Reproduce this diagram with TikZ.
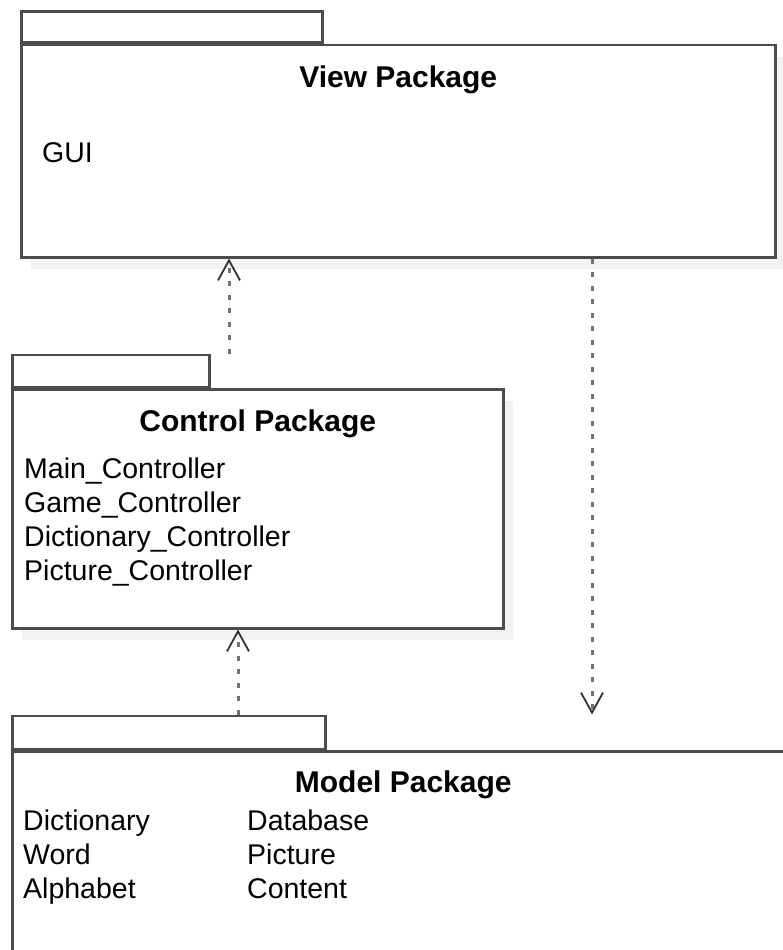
\documentclass[tikz,border=0pt]{standalone}
\usepackage{fontspec}
\setmainfont{Liberation Sans}
\usetikzlibrary{arrows.meta,shadows}

\begin{document}
\begin{tikzpicture}[x=1pt,y=-1pt,
    pkg/.style={draw=black!70, line width=2.5pt, fill=white, inner sep=0pt, anchor=north west},
    pkgbody/.style={pkg, drop shadow={shadow xshift=10pt, shadow yshift=-12pt, fill=black!5, opacity=1}},
    pkgname/.style={font=\fontsize{30}{34}\selectfont\bfseries, anchor=base, inner sep=0pt},
    pkglist/.style={font=\fontsize{28.5}{33.8}\selectfont, align=left, anchor=base west, inner sep=0pt},
    dep/.style={draw=black!55, line width=3pt, dash pattern=on 5pt off 8.5pt,
      -{Straight Barb[length=20pt, width=22pt, line width=1.8pt, color=black!80]}}]
      \useasboundingbox (0,0) rectangle (783,950);
      \clip (0,0) rectangle (783,950);

      \node[pkgbody, minimum width=754pt, minimum height=212pt] (view) at (20,44) {};
      \node[pkg, minimum width=301pt, minimum height=31pt, anchor=south west] (viewtab) at (view.north west) {};
      \node[pkgname] (viewname) at ([yshift=-43pt]view.north) {View Package};
      \node[pkglist] (gui) at ([xshift=22pt, yshift=-118pt]view.north west) {GUI};

      \node[pkgbody, minimum width=491pt, minimum height=239pt] (control) at (11,388) {};
      \node[pkg, minimum width=197pt, minimum height=32pt, anchor=south west] (controltab) at (control.north west) {};
      \node[pkgname] (controlname) at ([yshift=-43pt]control.north) {Control Package};
      \node[pkglist] (controllist) at ([xshift=13pt, yshift=-192pt]control.north west)
        {Main\_Controller\\Game\_Controller\\Dictionary\_Controller\\Picture\_Controller};

      \node[pkgbody, minimum width=782pt, minimum height=300pt] (model) at (11,750) {};
      \node[pkg, minimum width=313pt, minimum height=33pt, anchor=south west] (modeltab) at (model.north west) {};
      \node[pkgname] (modelname) at ([yshift=-42pt]model.north) {Model Package};
      \node[pkglist] (modelleft) at ([xshift=12pt, yshift=-148pt]model.north west) {Dictionary\\Word\\Alphabet};
      \node[pkglist] (modelright) at ([xshift=236pt, yshift=-148pt]model.north west) {Database\\Picture\\Content};

      \coordinate (ctrlout) at ([xshift=218pt]controltab.north west);
      \draw[dep] (ctrlout) -- (ctrlout |- view.south);

      \coordinate (modelout) at ([xshift=227pt]modeltab.north west);
      \draw[dep] (modelout) -- (modelout |- control.south);

      \coordinate (viewout) at ([xshift=572pt]view.south west);
      \draw[dep] (viewout) -- (viewout |- modeltab.north);
    \end{tikzpicture}
\end{document}
